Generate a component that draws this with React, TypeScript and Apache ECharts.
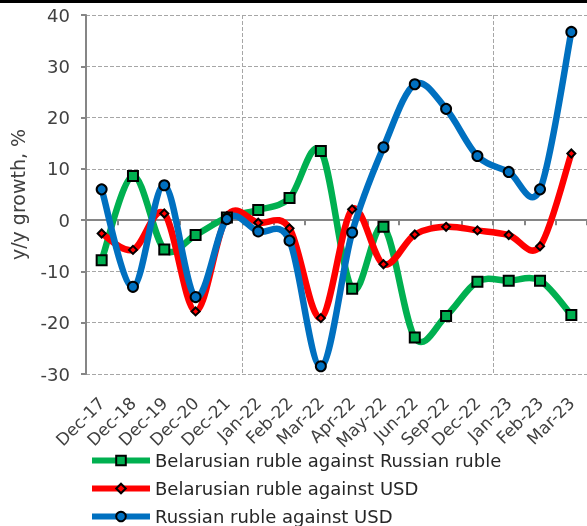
import React, { useEffect, useRef } from "react";
import * as echarts from "echarts";

const categories = ["Dec-17","Dec-18","Dec-19","Dec-20","Dec-21","Jan-22","Feb-22","Mar-22","Apr-22","May-22","Jun-22","Sep-22","Dec-22","Jan-23","Feb-23","Mar-23"];
const byrVsRub = [-7.8, 8.6, -5.7, -2.9, 0.5, 2.0, 4.3, 13.5, -13.4, -1.3, -22.9, -18.7, -12.0, -11.8, -11.8, -18.5];
const byrVsUsd = [-2.6, -5.8, 1.3, -17.8, 0.8, -0.5, -1.6, -19.1, 2.1, -8.6, -2.8, -1.3, -2.0, -2.9, -5.1, 13.0];
const rubVsUsd = [6.0, -13.0, 6.8, -15.0, 0.2, -2.2, -4.0, -28.5, -2.4, 14.2, 26.5, 21.7, 12.5, 9.4, 6.0, 36.7];
const seriesNames = ["Belarusian ruble against Russian ruble", "Belarusian ruble against USD", "Russian ruble against USD"];
const yTicks = { min: -30, max: 40, interval: 10 };
const yearBreaks = ["Jan-22", "Jan-23"];

const FONT = "DejaVu Sans";
const AXIS = "#868686";
const GRID = "#a6a6a6";
const TEXT = "#404040";
const COLORS = ["#00B050", "#FF0000", "#0070C0"];
const LINE_W = 6.5;

// Excel-like smooth curve (Catmull-Rom -> cubic Bezier) through points mapped by the axes
function smoothPath(pts: number[][]) {
  const n = pts.length;
  let d = `M${pts[0][0]},${pts[0][1]}`;
  for (let i = 0; i < n - 1; i++) {
    const p0 = pts[Math.max(0, i - 1)];
    const p1 = pts[i];
    const p2 = pts[i + 1];
    const p3 = pts[Math.min(n - 1, i + 2)];
    const c1x = p1[0] + (p2[0] - p0[0]) / 6;
    const c1y = p1[1] + (p2[1] - p0[1]) / 6;
    const c2x = p2[0] - (p3[0] - p1[0]) / 6;
    const c2y = p2[1] - (p3[1] - p1[1]) / 6;
    d += ` C${c1x},${c1y} ${c2x},${c2y} ${p2[0]},${p2[1]}`;
  }
  return d;
}

export default function App() {
  const ref = useRef<HTMLDivElement>(null);
  useEffect(() => {
    if (!ref.current) return;
    const chart = echarts.init(ref.current, null, { renderer: "svg" });
    const curve = (values: number[], color: string) => ({
      type: "custom",
      xAxisIndex: 0,
      yAxisIndex: 0,
      data: values.map((v, i) => [i, v]),
      encode: { x: 0, y: 1 },
      silent: true,
      renderItem: (params: any, api: any) => {
        if (params.dataIndex !== 0) return null;
        const pts = values.map((v, i) => api.coord([i, v]));
        return {
          type: "path",
          shape: { pathData: smoothPath(pts) },
          style: { fill: "none", stroke: color, lineWidth: LINE_W, lineJoin: "round", lineCap: "round" },
        };
      },
    });
    const markers = (name: string, data: number[], color: string, symbol: string, size: number) => ({
      name,
      type: "line",
      data,
      symbol,
      symbolSize: size,
      showAllSymbol: true,
      xAxisIndex: 0,
      lineStyle: { color, width: 0, opacity: 0 },
      itemStyle: { color, borderColor: "#000", borderWidth: 2 },
      emphasis: { disabled: true },
    });
    const legendTops = [450, 478, 506];
    chart.setOption({
      animation: false,
      graphic: [
        { type: "rect", left: 0, top: 0, shape: { width: 587, height: 3 }, style: { fill: "#000" } },
      ],
      grid: { left: 83, right: -3, top: 15, bottom: 152, containLabel: false },
      legend: seriesNames.map((n, i) => ({
        orient: "vertical",
        left: 89,
        top: legendTops[i],
        padding: 0,
        itemWidth: 58,
        itemHeight: 12,
        itemGap: 0,
        data: [n],
        lineStyle: { color: COLORS[i], width: 6, opacity: 1 },
        textStyle: { fontFamily: FONT, fontSize: 18, color: "#262626", lineHeight: 21 },
      })),
      xAxis: [
        {
          type: "category",
          data: categories,
          boundaryGap: true,
          axisLine: { show: false, onZero: false },
          axisTick: { show: false },
          axisLabel: {
            interval: 0,
            rotate: 45,
            margin: 26,
            fontFamily: FONT,
            fontSize: 17,
            color: TEXT,
          },
          splitLine: {
            show: true,
            interval: (index: number) => yearBreaks.includes(categories[index]),
            lineStyle: { color: GRID, type: "dashed", width: 1 },
          },
        },
        {
          type: "category",
          data: categories,
          position: "top",
          boundaryGap: true,
          axisLine: { show: true, onZero: true, lineStyle: { color: AXIS, width: 2 } },
          axisTick: { show: true, inside: true, length: 5, interval: 0, lineStyle: { color: AXIS, width: 2 } },
          axisLabel: { show: false },
          splitLine: { show: false },
        },
      ],
      yAxis: {
        type: "value",
        min: yTicks.min,
        max: yTicks.max,
        interval: yTicks.interval,
        name: "y/y growth, %",
        nameLocation: "middle",
        nameGap: 59,
        nameRotate: 90,
        nameTextStyle: { fontFamily: FONT, fontSize: 19, color: TEXT },
        axisLine: { show: true, lineStyle: { color: AXIS, width: 2 } },
        axisTick: { show: true, length: 5, lineStyle: { color: AXIS, width: 2 } },
        axisLabel: { margin: 16, fontFamily: FONT, fontSize: 18, color: TEXT },
        splitLine: { show: true, lineStyle: { color: GRID, type: "dashed", width: 1 } },
      },
      series: [
        curve(byrVsRub, COLORS[0]),
        markers(seriesNames[0], byrVsRub, COLORS[0], "rect", 10),
        curve(byrVsUsd, COLORS[1]),
        markers(seriesNames[1], byrVsUsd, COLORS[1], "diamond", 8),
        curve(rubVsUsd, COLORS[2]),
        markers(seriesNames[2], rubVsUsd, COLORS[2], "circle", 10),
      ],
    });
    return () => chart.dispose();
  }, []);
  return <div ref={ref} style={{ position: "fixed", left: 0, top: 0, width: 587, height: 526 }} />;
}
